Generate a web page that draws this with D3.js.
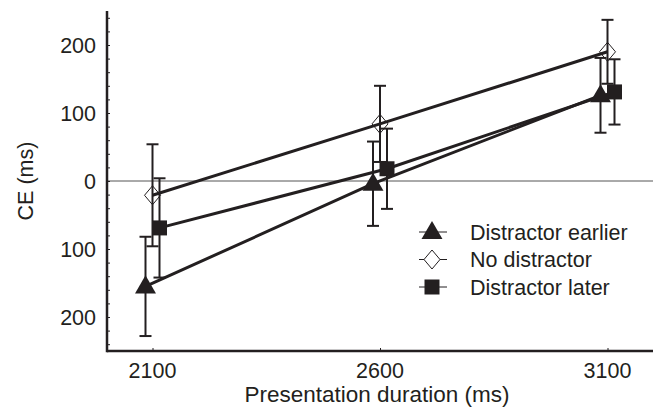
<!DOCTYPE html>
<html>
<head>
<meta charset="utf-8">
<script src="https://cdn.jsdelivr.net/npm/d3@7"></script>
<style>
  body { margin: 0; background: white; }
  svg { display: block; font-family: "Liberation Sans", Arial, sans-serif; }
</style>
</head>
<body>
<svg id="chart" width="657" height="409"></svg>
<script>
// durations on the x axis (ms)
const durations = [2100, 2600, 3100];
const yTicks = [-200, -100, 0, 100, 200];

const seriesNames = ["Distractor earlier", "No distractor", "Distractor later"];
const earlierMean = [-155, -4, 126];
const earlierErr = [73, 62, 55];
const noneMean = [-21, 84, 190];
const noneErr = [75, 56, 47];
const laterMean = [-69, 18, 131];
const laterErr = [73, 59, 48];

const ink = "#231f20";
const svg = d3.select("#chart");

const x = d3.scaleLinear().domain([2000, 3200]).range([107, 653]);
const y = d3.scaleLinear().domain([-250, 250]).range([351, 11]);

const series = [
  { name: seriesNames[0], mean: earlierMean, err: earlierErr, shape: "triangle", dx: -7 },
  { name: seriesNames[1], mean: noneMean, err: noneErr, shape: "diamond", dx: 0 },
  { name: seriesNames[2], mean: laterMean, err: laterErr, shape: "square", dx: 7 }
];

// zero reference line
svg.append("line")
  .attr("x1", x(2000)).attr("x2", x(3200))
  .attr("y1", y(0)).attr("y2", y(0))
  .attr("stroke", "#555").attr("stroke-width", 1);

// y axis: minor ticks every 20, labelled every 100, ticks pointing inward
const yAxis = d3.axisRight(y)
  .tickValues(d3.range(-240, 241, 20))
  .tickSize(3)
  .tickFormat("");
svg.append("g")
  .attr("transform", `translate(${x(2000)},0)`)
  .call(yAxis)
  .call(g => g.select(".domain").remove())
  .call(g => g.selectAll(".tick line").attr("stroke", ink));

svg.append("g")
  .selectAll("text")
  .data(yTicks)
  .join("text")
  .attr("x", 96)
  .attr("y", d => y(d))
  .attr("dy", "0.36em")
  .attr("text-anchor", "end")
  .attr("font-size", 21.5)
  .attr("fill", ink)
  .text(d => Math.abs(d));

// x axis, ticks inward
const xAxis = d3.axisTop(x).tickValues(durations).tickSize(3).tickFormat("");
svg.append("g")
  .attr("transform", `translate(0,${y(-250)})`)
  .call(xAxis)
  .call(g => g.select(".domain").remove())
  .call(g => g.selectAll(".tick line").attr("stroke", ink));

svg.append("g")
  .selectAll("text")
  .data(durations)
  .join("text")
  .attr("x", d => x(d))
  .attr("y", 378)
  .attr("text-anchor", "middle")
  .attr("font-size", 21.5)
  .attr("fill", ink)
  .text(d => d);

// axis lines
svg.append("line")
  .attr("x1", x(2000)).attr("x2", x(3200))
  .attr("y1", y(-250)).attr("y2", y(-250))
  .attr("stroke", ink).attr("stroke-width", 2.5);
svg.append("line")
  .attr("x1", x(2000)).attr("x2", x(2000))
  .attr("y1", y(250)).attr("y2", y(-250) + 1.25)
  .attr("stroke", ink).attr("stroke-width", 2.5);

// axis titles
svg.append("text")
  .attr("x", 377).attr("y", 402)
  .attr("text-anchor", "middle")
  .attr("font-size", 22.5)
  .attr("fill", ink)
  .text("Presentation duration (ms)");

svg.append("text")
  .attr("transform", `translate(33,${y(0)}) rotate(-90)`)
  .attr("text-anchor", "middle")
  .attr("font-size", 21.5)
  .attr("fill", ink)
  .text("CE (ms)");

// open diamond, a bit taller than wide
const diamondPath = "M0,-9.5L8,0L0,9.5L-8,0Z";

const symbolFor = {
  triangle: d3.symbol().type(d3.symbolTriangle).size(190),
  square: d3.symbol().type(d3.symbolSquare).size(225)
};

function drawMarker(g, shape, cx, cy, fill) {
  if (shape === "diamond") {
    g.append("path")
      .attr("d", diamondPath)
      .attr("transform", `translate(${cx},${cy})`)
      .attr("fill", fill || "none").attr("stroke", ink).attr("stroke-width", 1);
    return;
  }
  g.append("path")
    .attr("d", symbolFor[shape]())
    .attr("transform", `translate(${cx},${cy + (shape === "triangle" ? 1 : 0)})`)
    .attr("fill", ink);
}

const plot = svg.append("g");

// connecting lines
series.forEach(s => {
  const line = d3.line()
    .x((d, i) => x(durations[i]) + s.dx)
    .y(d => y(d));
  plot.append("path")
    .datum(s.mean)
    .attr("d", line)
    .attr("fill", "none")
    .attr("stroke", ink)
    .attr("stroke-width", 3);
});

// error bars
series.forEach(s => {
  s.mean.forEach((m, i) => {
    const cx = x(durations[i]) + s.dx;
    const g = plot.append("g").attr("stroke", ink).attr("stroke-width", 2);
    g.append("line").attr("x1", cx).attr("x2", cx)
      .attr("y1", y(m + s.err[i])).attr("y2", y(m - s.err[i]));
    [m + s.err[i], m - s.err[i]].forEach(v => {
      g.append("line").attr("x1", cx - 6).attr("x2", cx + 6)
        .attr("y1", y(v)).attr("y2", y(v));
    });
  });
});

// markers
series.forEach(s => {
  s.mean.forEach((m, i) => {
    drawMarker(plot, s.shape, x(durations[i]) + s.dx, y(m));
  });
});

// legend
const legend = svg.append("g").attr("transform", "translate(432,232)");
series.forEach((s, i) => {
  const row = legend.append("g").attr("transform", `translate(0,${i * 27.5})`);
  row.append("line").attr("x1", -13).attr("x2", 15)
    .attr("stroke", ink).attr("stroke-width", 1);
  drawMarker(row, s.shape, 0, 0, "white");
  row.append("text")
    .attr("x", 38)
    .attr("dy", "0.36em")
    .attr("font-size", 21.5)
    .attr("fill", ink)
    .text(s.name);
});
</script>
</body>
</html>
